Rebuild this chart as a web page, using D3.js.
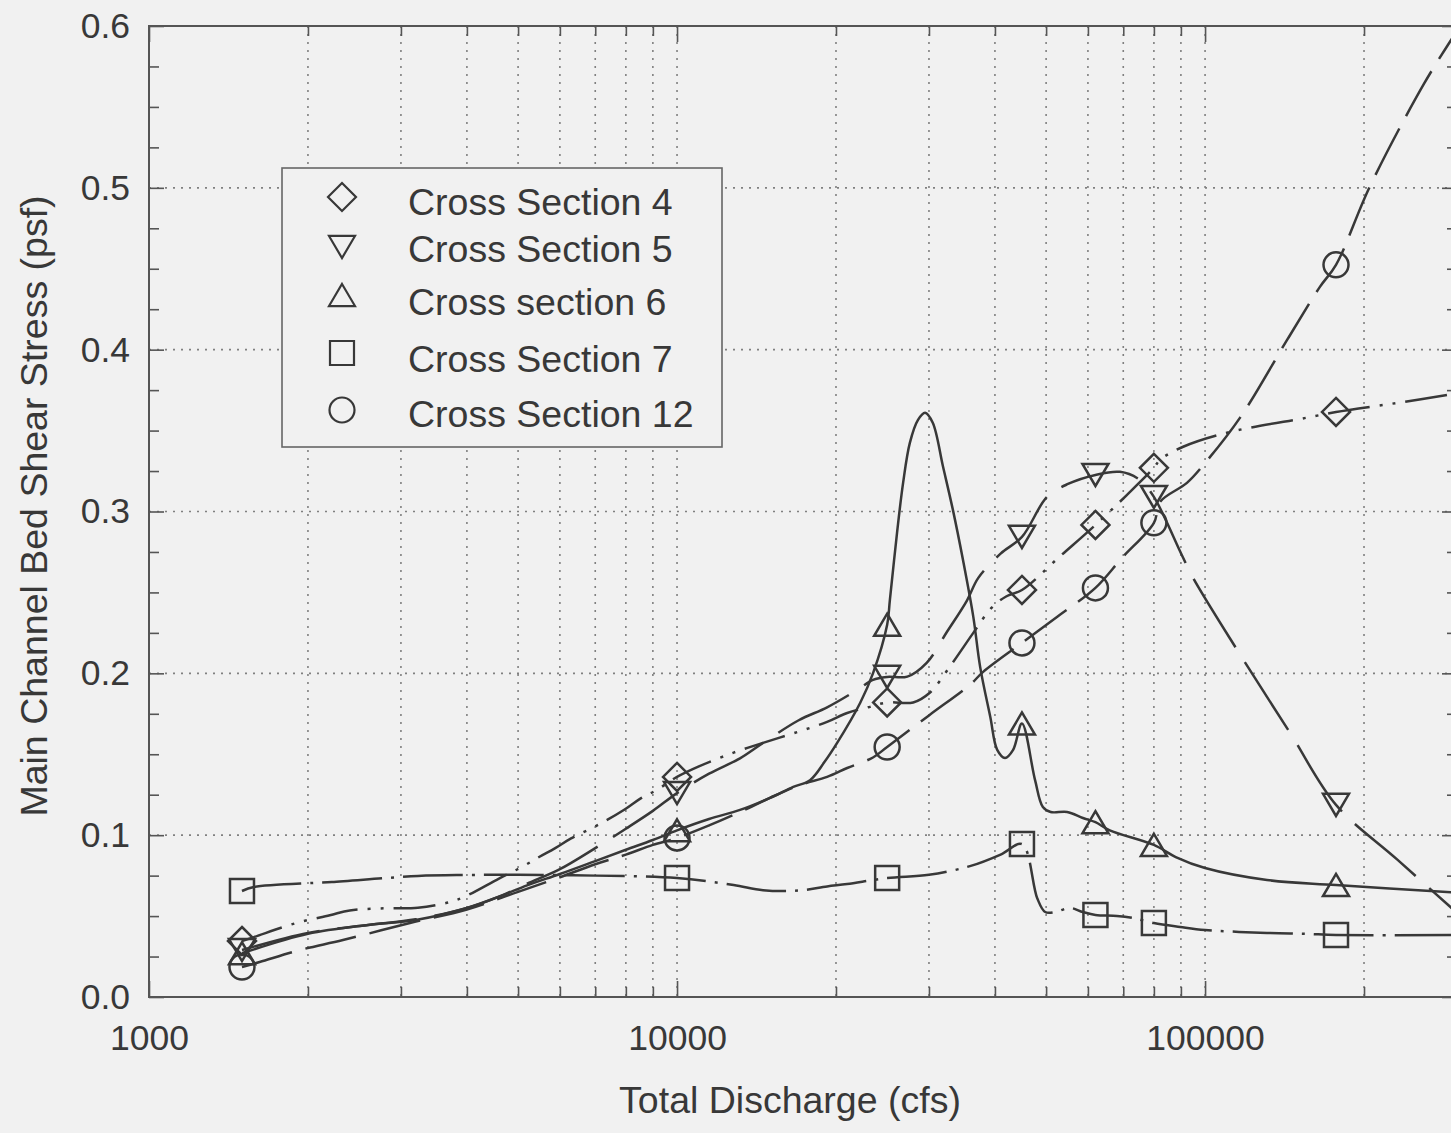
<!DOCTYPE html>
<html>
<head>
<meta charset="utf-8">
<script src="https://cdn.jsdelivr.net/npm/d3@7"></script>
<style>
  html, body { margin: 0; padding: 0; background: #f1f1f1; }
  svg { display: block; }
</style>
</head>
<body>
<svg id="chart" width="1451" height="1133"></svg>
<script>
// ---------------- data ----------------
const xDomain = [1000, 300000];
const yDomain = [0, 0.6];
const xMajorTicks = [1000, 10000, 100000];
const yMajorTicks = [0, 0.1, 0.2, 0.3, 0.4, 0.5, 0.6];
const xTitle = "Total Discharge (cfs)";
const yTitle = "Main Channel Bed Shear Stress (psf)";
const seriesNames = ["Cross Section 4", "Cross Section 5", "Cross section 6", "Cross Section 7", "Cross Section 12"];

// discharges where symbols are plotted
const markerDischarge = [1500, 10000, 25000, 45000, 62000, 80000, 177000];
// symbol values per series
const cs4Values  = [0.0346, 0.136, 0.182, 0.2515, 0.2917, 0.327, 0.3615];
const cs5Values  = [0.029, 0.126, 0.1978, 0.2843, 0.3226, 0.309, 0.1187];
const cs6Values  = [0.027, 0.103, 0.230, 0.169, 0.108, 0.094, 0.0692];
const cs7Values  = [0.0655, 0.0735, 0.0735, 0.0945, 0.0507, 0.0457, 0.0383];
const cs12Values = [0.0185, 0.0983, 0.1545, 0.2188, 0.2528, 0.293, 0.4524];

// smoothed curve traces [discharge, stress]
const cs4Curve = [[1500,0.0346],[1580,0.037],[1900,0.0457],[2200,0.0505],[2400,0.0535],[2800,0.0548],[3230,0.0552],[3700,0.0585],[3950,0.0618],[4600,0.0732],[5060,0.080],[5480,0.0865],[5880,0.092],[6300,0.098],[7150,0.107],[7970,0.116],[8550,0.1229],[9160,0.128],[10000,0.136],[11000,0.1425],[12800,0.151],[14550,0.157],[17000,0.164],[19240,0.170],[21000,0.1755],[23000,0.179],[25000,0.182],[28000,0.182],[30100,0.188],[33000,0.205],[36400,0.225],[39400,0.2404],[42000,0.2475],[45000,0.2515],[53000,0.272],[62000,0.2917],[71000,0.310],[80000,0.327],[82200,0.332],[90900,0.340],[111000,0.349],[156000,0.358],[177000,0.3615],[230000,0.367],[300000,0.373]];
const cs5Curve = [[1500,0.029],[2000,0.0396],[2600,0.0445],[3200,0.048],[4000,0.055],[4600,0.062],[5200,0.070],[6000,0.079],[7000,0.092],[8000,0.104],[9000,0.115],[10000,0.126],[11500,0.138],[13160,0.1475],[14550,0.157],[17000,0.171],[19240,0.179],[22000,0.190],[23500,0.196],[25000,0.1978],[27300,0.198],[29700,0.2065],[32500,0.226],[35400,0.245],[37200,0.259],[41000,0.274],[45000,0.2843],[50200,0.309],[55000,0.317],[62000,0.3226],[69000,0.3245],[75300,0.3195],[80000,0.309],[90400,0.273],[94900,0.259],[115000,0.2145],[145000,0.163],[177000,0.1187],[231000,0.085],[300000,0.052]];
const cs6Curve = [[1500,0.027],[2000,0.039],[2600,0.0445],[3200,0.0476],[4000,0.055],[4600,0.062],[5200,0.069],[6000,0.076],[7000,0.084],[8000,0.091],[9000,0.097],[10000,0.103],[11500,0.110],[13160,0.1156],[15000,0.123],[16600,0.1298],[17860,0.134],[19000,0.145],[20100,0.157],[22220,0.1817],[23500,0.200],[25000,0.230],[25300,0.2454],[26100,0.2868],[26800,0.3177],[27600,0.3424],[28600,0.3566],[29500,0.361],[30500,0.3548],[31900,0.3276],[33300,0.301],[34800,0.270],[36400,0.2349],[37500,0.204],[39200,0.173],[40400,0.1527],[41800,0.1477],[43300,0.1527],[45000,0.169],[47650,0.134],[49300,0.1174],[51000,0.1143],[54800,0.1143],[58700,0.1106],[62000,0.108],[66000,0.103],[80000,0.094],[88000,0.0865],[100000,0.0797],[131000,0.0723],[177000,0.0692],[300000,0.0645]];
const cs7Curve = [[1500,0.0655],[1580,0.068],[2050,0.0705],[2220,0.071],[3230,0.0748],[4000,0.0754],[5000,0.0755],[7000,0.075],[10000,0.0735],[12800,0.0692],[14550,0.066],[17000,0.0658],[19240,0.0683],[21000,0.0698],[25000,0.0735],[30000,0.0755],[36000,0.081],[41000,0.088],[45000,0.0945],[48100,0.061],[49800,0.0525],[52000,0.0525],[55500,0.055],[58700,0.0525],[62000,0.0507],[68100,0.0501],[73100,0.0488],[80000,0.0457],[89700,0.0433],[100000,0.0414],[131000,0.0396],[156000,0.039],[177000,0.0383],[300000,0.0383]];
const cs12Curve = [[1500,0.0185],[1620,0.0216],[1930,0.029],[2330,0.0352],[3120,0.0457],[4000,0.054],[5000,0.065],[6000,0.074],[7000,0.082],[8000,0.088],[9000,0.094],[10000,0.0983],[11500,0.106],[13160,0.1143],[15000,0.123],[17100,0.131],[19240,0.136],[21000,0.1415],[23500,0.148],[25000,0.1545],[30000,0.174],[35900,0.193],[38000,0.2009],[45000,0.2188],[52500,0.235],[62000,0.2528],[69600,0.2713],[80000,0.293],[82200,0.306],[92400,0.3177],[100000,0.330],[116500,0.358],[143000,0.406],[165000,0.4388],[177000,0.4524],[205000,0.5006],[260000,0.5645],[300000,0.597]];

// ---------------- layout ----------------
const W = 1451, H = 1133;
const pLeft = 149, pRight = 1457, pTop = 26, pBottom = 997;
const ink = "#383838";
const bg = "#f1f1f1";
const fontFam = "'Liberation Sans', Arial, sans-serif";

const svg = d3.select("#chart");
svg.append("rect").attr("width", W).attr("height", H).attr("fill", bg);

const x = d3.scaleLog().domain(xDomain).range([pLeft, pRight]);
const y = d3.scaleLinear().domain(yDomain).range([pBottom, pTop]);

// minor tick values
const xAll = [];
[1000, 10000, 100000].forEach(d => { for (let k = 1; k <= 9; k++) { const v = k * d; if (v <= xDomain[1]) xAll.push(v); } });
const xMinor = xAll.filter(v => !xMajorTicks.includes(v));
const yMinor = d3.range(0, 24).map(i => +(i * 0.025).toFixed(3)).filter(v => Math.abs(v * 10 - Math.round(v * 10)) > 1e-6);

// ---------------- grid ----------------
const grid = svg.append("g").attr("stroke", "#808080").attr("stroke-width", 1.6).attr("stroke-dasharray", "2,6");
grid.selectAll("line.vx").data(xAll.filter(v => v > 1000)).join("line")
  .attr("x1", d => x(d)).attr("x2", d => x(d)).attr("y1", pTop).attr("y2", pBottom);
grid.selectAll("line.hy").data(yMajorTicks.filter(v => v > 0 && v < 0.6)).join("line")
  .attr("x1", pLeft).attr("x2", pRight).attr("y1", d => y(d)).attr("y2", d => y(d));

// ---------------- curves ----------------
svg.append("clipPath").attr("id", "plotclip").append("rect")
  .attr("x", pLeft).attr("y", pTop).attr("width", pRight - pLeft).attr("height", pBottom - pTop);

const line = d3.line().x(d => x(d[0])).y(d => y(d[1])).curve(d3.curveCatmullRom.alpha(0.5));

const diamondType = { draw(ctx, size) { const r = Math.sqrt(size); ctx.moveTo(0, -r); ctx.lineTo(r, 0); ctx.lineTo(0, r); ctx.lineTo(-r, 0); ctx.closePath(); } };
const triDownType = { draw(ctx, size) { const r = Math.sqrt(size); ctx.moveTo(-r, -0.85 * r); ctx.lineTo(r, -0.85 * r); ctx.lineTo(0, 0.85 * r); ctx.closePath(); } };
const triUpType = { draw(ctx, size) { const r = Math.sqrt(size); ctx.moveTo(0, -0.85 * r); ctx.lineTo(r, 0.85 * r); ctx.lineTo(-r, 0.85 * r); ctx.closePath(); } };
const squareType = { draw(ctx, size) { const r = Math.sqrt(size); ctx.moveTo(-r, -r); ctx.lineTo(r, -r); ctx.lineTo(r, r); ctx.lineTo(-r, r); ctx.closePath(); } };
const circleType = { draw(ctx, size) { const r = Math.sqrt(size); ctx.moveTo(r, 0); ctx.arc(0, 0, r, 0, 2 * Math.PI); ctx.closePath(); } };

const series = [
  { name: seriesNames[0], curve: cs4Curve,  values: cs4Values,  type: diamondType, r: 14,   dash: "42,10,3,10,3,10" },
  { name: seriesNames[1], curve: cs5Curve,  values: cs5Values,  type: triDownType, r: 13,   dash: "80,18" },
  { name: seriesNames[2], curve: cs6Curve,  values: cs6Values,  type: triUpType,   r: 13,   dash: null },
  { name: seriesNames[3], curve: cs7Curve,  values: cs7Values,  type: squareType,  r: 12,   dash: "60,9,3,9" },
  { name: seriesNames[4], curve: cs12Curve, values: cs12Values, type: circleType,  r: 12.5, dash: "52,14" }
];

const curveG = svg.append("g").attr("clip-path", "url(#plotclip)");
series.forEach(s => {
  curveG.append("path").datum(s.curve)
    .attr("d", line).attr("fill", "none").attr("stroke", ink).attr("stroke-width", 2.5)
    .attr("stroke-dasharray", s.dash).attr("stroke-linejoin", "round");
});
series.forEach(s => {
  const pts = markerDischarge.map((q, i) => [q, s.values[i]]);
  curveG.selectAll(null).data(pts).join("path")
    .attr("transform", d => `translate(${x(d[0])},${y(d[1])})`)
    .attr("d", d3.symbol().type(s.type).size(s.r * s.r))
    .attr("fill", "none").attr("stroke", ink).attr("stroke-width", 2.5);
});

// ---------------- axes ----------------
function styleAxis(g) {
  g.select(".domain").remove();
  g.selectAll(".tick line").attr("stroke", "#555").attr("stroke-width", 1.6);
}
const noLabel = () => "";
svg.append("g").attr("transform", `translate(0,${pBottom})`)
  .call(d3.axisBottom(x).tickValues(xMinor).tickSize(-10).tickFormat(noLabel)).call(styleAxis);
svg.append("g").attr("transform", `translate(0,${pTop})`)
  .call(d3.axisTop(x).tickValues(xMinor).tickSize(-10).tickFormat(noLabel)).call(styleAxis);
svg.append("g").attr("transform", `translate(0,${pTop})`)
  .call(d3.axisTop(x).tickValues(xMajorTicks).tickSize(-16).tickFormat(noLabel)).call(styleAxis);
svg.append("g").attr("transform", `translate(${pLeft},0)`)
  .call(d3.axisLeft(y).tickValues(yMinor).tickSize(-10).tickFormat(noLabel)).call(styleAxis);
svg.append("g").attr("transform", `translate(${pRight},0)`)
  .call(d3.axisRight(y).tickValues(yMinor).tickSize(-10).tickFormat(noLabel)).call(styleAxis);
svg.append("g").attr("transform", `translate(${pRight},0)`)
  .call(d3.axisRight(y).tickValues(yMajorTicks).tickSize(-15).tickFormat(noLabel)).call(styleAxis);

const xAxisG = svg.append("g").attr("transform", `translate(0,${pBottom})`)
  .call(d3.axisBottom(x).tickValues(xMajorTicks).tickSize(-16).tickPadding(28).tickFormat(d3.format("d")))
  .call(styleAxis);
const yAxisG = svg.append("g").attr("transform", `translate(${pLeft},0)`)
  .call(d3.axisLeft(y).tickValues(yMajorTicks).tickSize(-15).tickPadding(19).tickFormat(d3.format(".1f")))
  .call(styleAxis);
[xAxisG, yAxisG].forEach(g => g.attr("font-family", fontFam).attr("font-size", 35.5)
  .selectAll("text").attr("fill", ink));

// frame
svg.append("rect").attr("x", pLeft).attr("y", pTop).attr("width", pRight - pLeft).attr("height", pBottom - pTop)
  .attr("fill", "none").attr("stroke", "#555").attr("stroke-width", 2);

// titles
svg.append("text").attr("x", 790).attr("y", 1113).attr("text-anchor", "middle")
  .attr("font-family", fontFam).attr("font-size", 37.5).attr("fill", ink).text(xTitle);
svg.append("text").attr("transform", "translate(34,506) rotate(-90)").attr("text-anchor", "middle").attr("dy", "0.35em")
  .attr("font-family", fontFam).attr("font-size", 37.5).attr("fill", ink).text(yTitle);

// ---------------- legend ----------------
const legend = svg.append("g");
legend.append("rect").attr("x", 282).attr("y", 168).attr("width", 440).attr("height", 279)
  .attr("fill", bg).attr("stroke", "#666").attr("stroke-width", 1.6);
const legendSymY = [197, 247, 295, 353, 410];
const legendTextY = [215, 262, 315, 372, 427];
series.forEach((s, i) => {
  legend.append("path").attr("transform", `translate(342,${legendSymY[i]})`)
    .attr("d", d3.symbol().type(s.type).size(s.r * s.r))
    .attr("fill", "none").attr("stroke", ink).attr("stroke-width", 2.2);
  legend.append("text").attr("x", 408).attr("y", legendTextY[i])
    .attr("font-family", fontFam).attr("font-size", 37.5).attr("fill", ink)
    .text(s.name);
});
</script>
</body>
</html>
